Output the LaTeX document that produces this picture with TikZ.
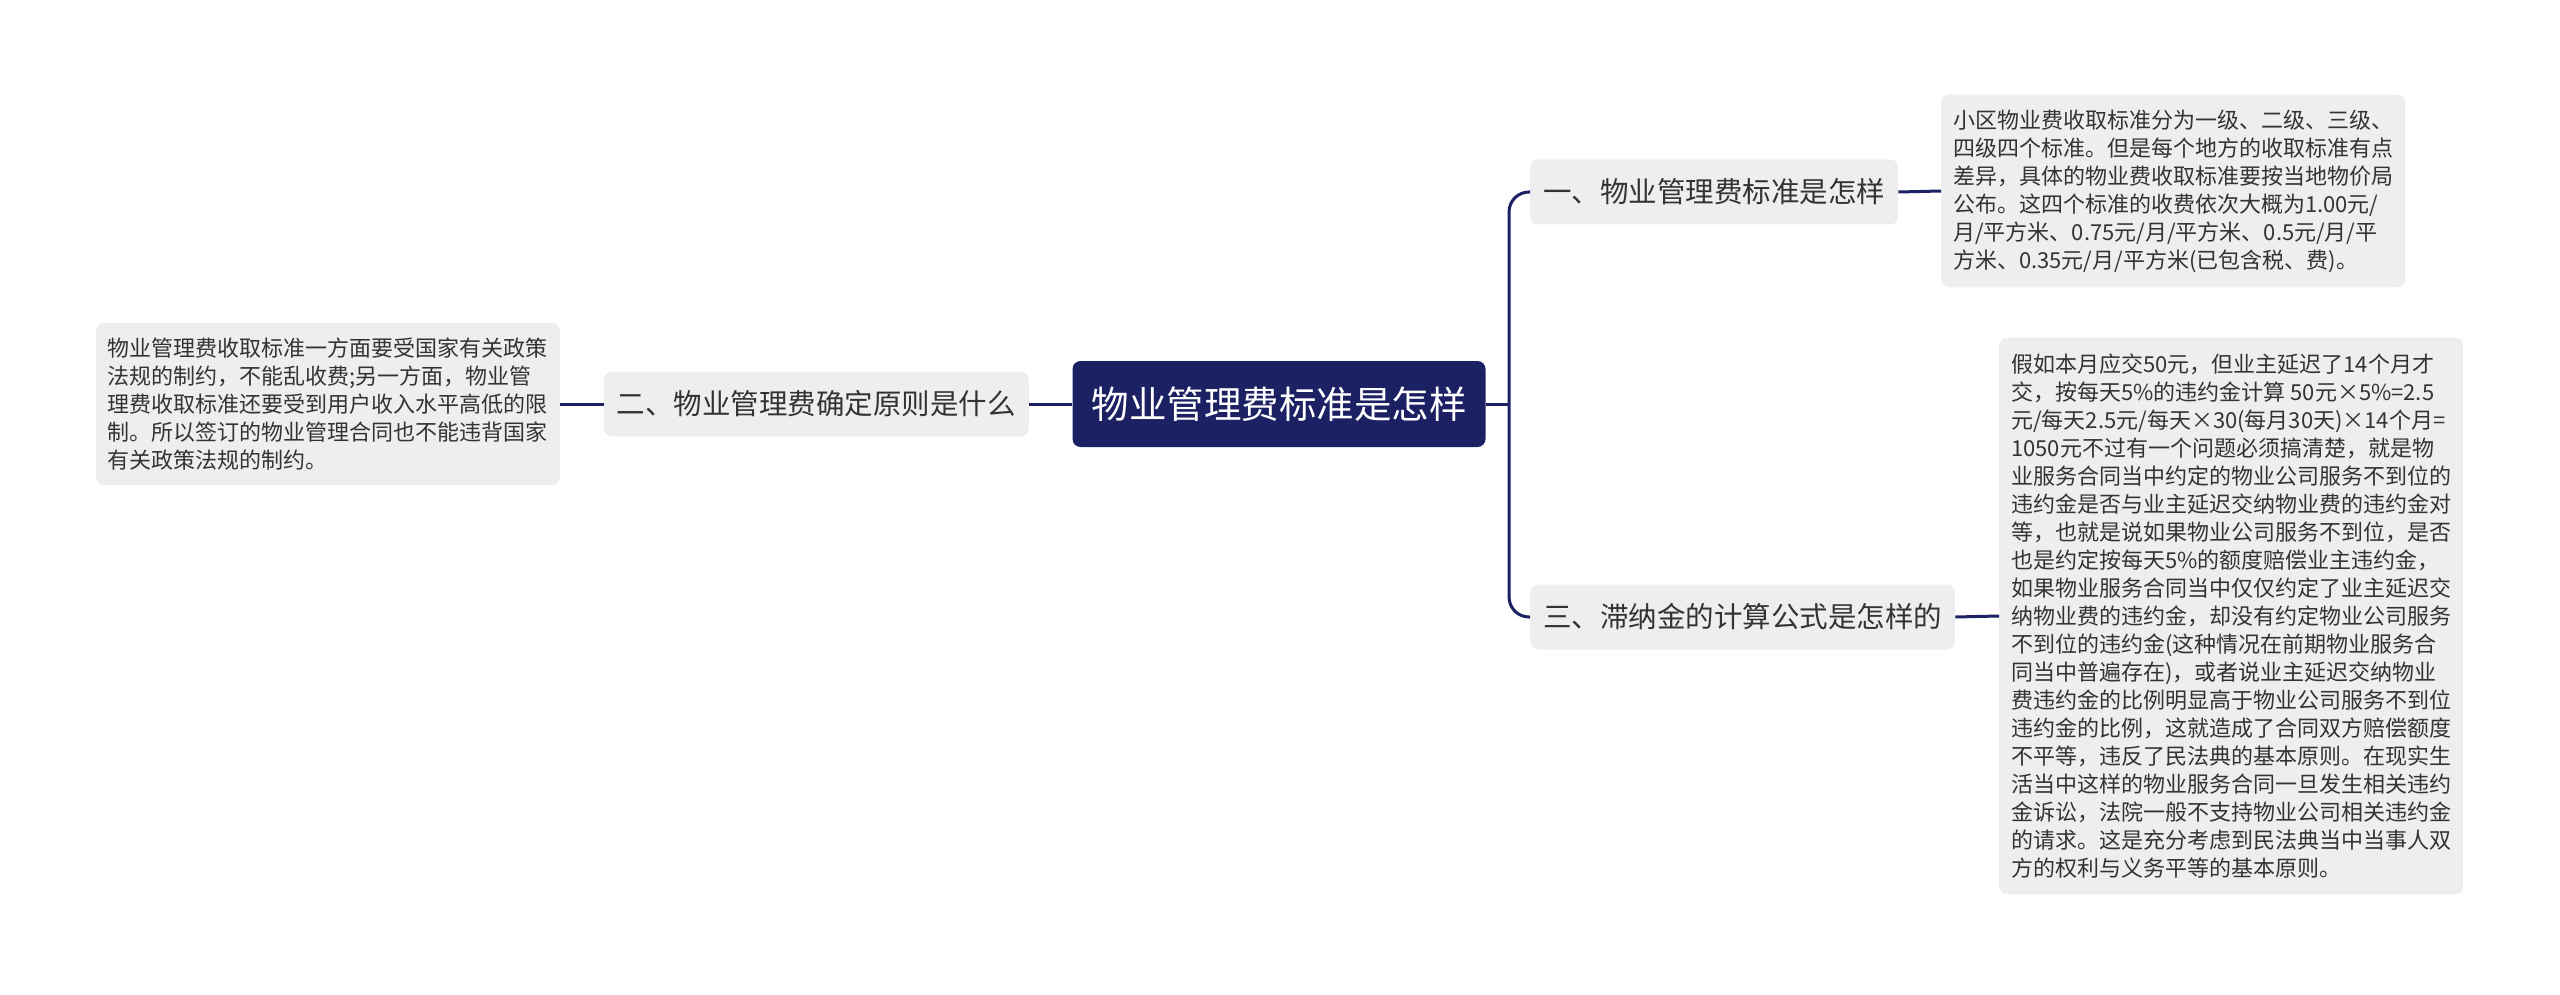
\documentclass[tikz,border=0pt]{standalone}
\usepackage{fontspec}
\setmainfont{Noto Sans CJK SC}
\definecolor{navy}{RGB}{27,33,99}
\definecolor{boxgray}{RGB}{238,238,238}
\definecolor{ink}{RGB}{51,51,51}
\begin{document}
\begin{tikzpicture}[x=1pt, y=-1pt,
    every node/.style={rounded corners=8pt, align=left},
    root/.style={fill=navy, text=white, font=\fontsize{37.5}{40}\selectfont, inner xsep=19pt, minimum height=86pt},
    topic/.style={fill=boxgray, text=ink, font=\fontsize{28.5}{32}\selectfont, inner xsep=13pt, minimum height=65pt},
    leaf/.style={fill=boxgray, text=ink, font=\fontsize{22}{28}\selectfont, inner xsep=12pt, inner ysep=15pt},
    link/.style={draw=navy, line width=3pt}]
    \useasboundingbox (0,0) rectangle (2560,995);
    \node[root] (root) at (1279,404) {物业管理费标准是怎样};
    \node[topic, anchor=east] (t2) at (1029,404) {二、物业管理费确定原则是什么};
    \node[topic, anchor=west] (t1) at (1530,192) {一、物业管理费标准是怎样};
    \node[topic, anchor=west] (t3) at (1530,617) {三、滞纳金的计算公式是怎样的};
    \node[leaf, anchor=east] (l2) at (560,404) {物业管理费收取标准一方面要受国家有关政策\\法规的制约，不能乱收费;另一方面，物业管\\理费收取标准还要受到用户收入水平高低的限\\制。所以签订的物业管理合同也不能违背国家\\有关政策法规的制约。};
    \node[leaf, anchor=west] (l1) at (1941,191) {小区物业费收取标准分为一级、二级、三级、\\四级四个标准。但是每个地方的收取标准有点\\差异，具体的物业费收取标准要按当地物价局\\公布。这四个标准的收费依次大概为1.00元/\\月/平方米、0.75元/月/平方米、0.5元/月/平\\方米、0.35元/月/平方米(已包含税、费)。};
    \node[leaf, anchor=west, inner ysep=16pt] (l3) at (1999,616) {假如本月应交50元，但业主延迟了14个月才\\交，按每天5\%的违约金计算 50元×5\%=2.5\\元/每天2.5元/每天×30(每月30天)×14个月=\\1050元不过有一个问题必须搞清楚，就是物\\业服务合同当中约定的物业公司服务不到位的\\违约金是否与业主延迟交纳物业费的违约金对\\等，也就是说如果物业公司服务不到位，是否\\也是约定按每天5\%的额度赔偿业主违约金，\\如果物业服务合同当中仅仅约定了业主延迟交\\纳物业费的违约金，却没有约定物业公司服务\\不到位的违约金(这种情况在前期物业服务合\\同当中普遍存在)，或者说业主延迟交纳物业\\费违约金的比例明显高于物业公司服务不到位\\违约金的比例，这就造成了合同双方赔偿额度\\不平等，违反了民法典的基本原则。在现实生\\活当中这样的物业服务合同一旦发生相关违约\\金诉讼，法院一般不支持物业公司相关违约金\\的请求。这是充分考虑到民法典当中当事人双\\方的权利与义务平等的基本原则。};
    \coordinate (fork) at (1509,404);
    \draw[link] (root.east) -- (fork);
    \draw[link, rounded corners=20pt] (t1.west) -| (fork) |- (t3.west);
    \foreach \a/\b in {root.west/t2.east, t2.west/l2.east, t1.east/l1.west, t3.east/l3.west}
        \draw[link] (\a) -- (\b);
\end{tikzpicture}
\end{document}
